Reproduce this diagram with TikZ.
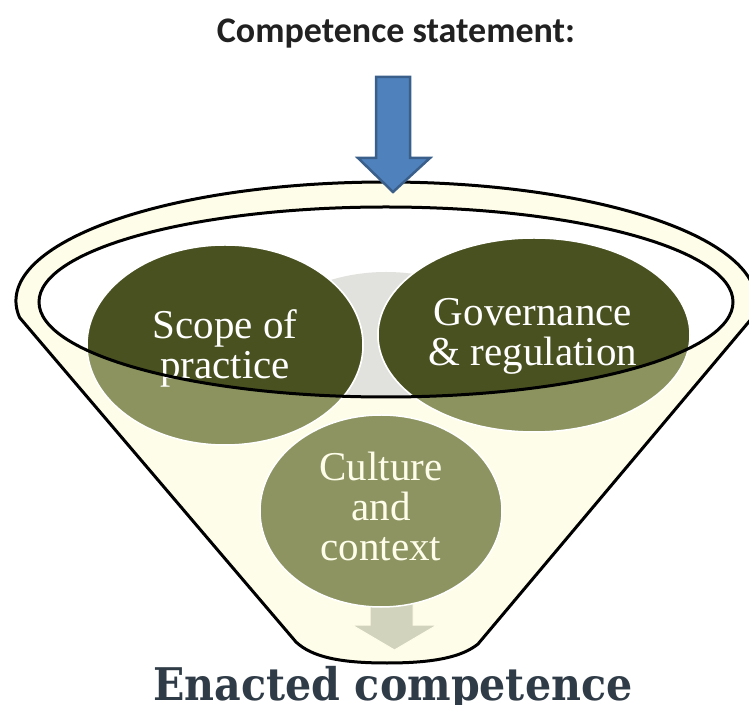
\documentclass[tikz,border=0pt]{standalone}
\usepackage{fontspec}
\newfontfamily\titlefont{Carlito}
\newfontfamily\bubblefont{Liberation Serif}
\newfontfamily\enactfont[FakeStretch=0.915]{DejaVu Serif}
\usetikzlibrary{calc, positioning}
\definecolor{rimcream}{HTML}{FEFDE9}
\definecolor{darkolive}{HTML}{4A5120}
\definecolor{liteolive}{HTML}{8C935F}
\definecolor{cultolive}{HTML}{8D9462}
\definecolor{backgrey}{HTML}{E1E2DE}
\definecolor{arrowblue}{HTML}{4F81BD}
\definecolor{arrowedge}{HTML}{3A5F8B}
\definecolor{outgrey}{HTML}{D2D3BD}
\definecolor{slate}{HTML}{2F3B46}

\begin{document}
\begin{tikzpicture}[x=1pt, y=1pt,
      rim/.style = {black, line width=3pt},
   bubble/.style = {draw=white, line width=1.5pt},
  bubtext/.style = {white, align=center, font=\bubblefont\fontsize{41}{40}\selectfont}
                    ]
\useasboundingbox (0,0) rectangle (749,704);
%coordinates
\coordinate (mouth) at (386,403);
\coordinate (lefttop) at ($(mouth)+(188:370 and 119)$);

% funnel
\filldraw[rim, fill=rimcream] (lefttop) arc[start angle=188, end angle=-8, x radius=370, y radius=119]
   -- (478,60) .. controls (462,47) and (434,41) .. (387,41)
   .. controls (340,41) and (312,47) .. (296,62) -- cycle;
\fill[white] (386,402) ellipse [x radius=347, y radius=95];
\begin{scope}
\clip (386,402) ellipse [x radius=347, y radius=95];
\fill[backgrey] (386,284) ellipse [x radius=170, y radius=148];
\end{scope}

% bubbles
\filldraw[bubble, fill=liteolive] (225,359) ellipse [x radius=138, y radius=100];
\filldraw[bubble, fill=liteolive] (534,369) ellipse [x radius=156, y radius=97];
\begin{scope}
\clip (386,402) ellipse [x radius=347, y radius=95];
\filldraw[bubble, fill=darkolive] (225,359) ellipse [x radius=138, y radius=100];
\filldraw[bubble, fill=darkolive] (534,369) ellipse [x radius=156, y radius=97];
\end{scope}
\filldraw[draw=rimcream, line width=1pt, fill=outgrey]
   (370,109) -- (413,109) -- (413,79) -- (437,79) -- (394.5,54) -- (352,79) -- (370,79) -- cycle;
\filldraw[bubble, fill=cultolive] (381,193) ellipse [x radius=121, y radius=96];

%nodes
\node[bubtext] (scope) at (225,356) {Scope of\\practice};
\node[bubtext] (gov) at (533,368) {Governance\\\& regulation};
\node[bubtext, text=rimcream] (culture) at (381,198) {Culture\\and\\context};
\node[anchor=base, text=black!87, font=\titlefont\bfseries\fontsize{36}{40}\selectfont] (title) at (396,661) {Competence statement:};
\node[anchor=base, text=slate, font=\enactfont\bfseries\fontsize{45}{48}\selectfont] (enacted) at (393,4) {Enacted competence};

% rim on top
\draw[rim] (386,402) ellipse [x radius=347, y radius=95];
\filldraw[draw=arrowedge, line width=2.5pt, fill=arrowblue, line join=miter]
   (376,627) -- (410,627) -- (410,546) -- (430,546) -- (393,512) -- (358,546) -- (376,546) -- cycle;
\end{tikzpicture}
\end{document}
